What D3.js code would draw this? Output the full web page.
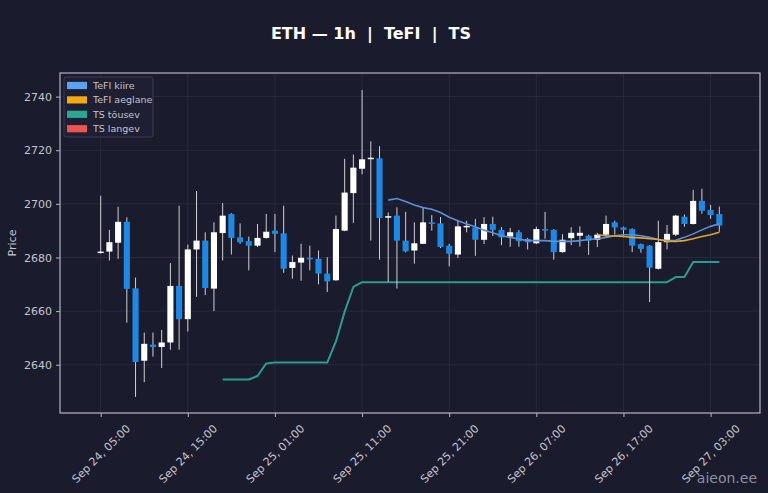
<!DOCTYPE html>
<html>
<head>
<meta charset="utf-8">
<script src="https://cdn.jsdelivr.net/npm/d3@7"></script>
<style>
  html, body { margin: 0; padding: 0; background: #1b1b2e; }
  svg { display: block; font-family: "DejaVu Sans", sans-serif; }
</style>
</head>
<body>
<div id="chart"></div>
<script>
// hourly candles, first one at Sep 24 05:00
const startTime = "2024-09-24T05:00:00Z";
const opens  = [2682, 2682.2, 2685.5, 2693.3, 2668.5, 2641.5, 2647.5, 2646.6, 2648.3, 2669.4,
  2657, 2683, 2686.3, 2668.4, 2689.1, 2696.2, 2687.5, 2686.1, 2684.4, 2687.3,
  2690, 2689, 2676.1, 2678.1, 2679.9, 2679.5, 2674, 2671.5, 2690, 2704,
  2713.1, 2716.8, 2717, 2694.9, 2695.6, 2686.3, 2682.6, 2685.1, 2693.1, 2692.7,
  2684.4, 2681.1, 2691.4, 2691.2, 2686.6, 2692.5, 2690.3, 2687.8, 2689.4, 2686.9,
  2685.3, 2690.6, 2690.3, 2682, 2687.2, 2688.1, 2688.1, 2686.6, 2688.5, 2693.1,
  2691.2, 2690.6, 2685, 2684.4, 2675.8, 2685.7, 2688.5, 2695.2, 2692.5, 2701.1,
  2697.7, 2696.2];
const highs  = [2703, 2690.3, 2698.9, 2695, 2672.5, 2652, 2652, 2653, 2677.9, 2699.3,
  2684.8, 2704.8, 2689.4, 2693.1, 2700.3, 2696.5, 2692.7, 2687.8, 2692.5, 2696.2,
  2696.2, 2699.3, 2680.7, 2685.1, 2684.4, 2682.6, 2680.1, 2695.6, 2716.8, 2718.4,
  2742.5, 2723.3, 2721.5, 2696.8, 2698.7, 2697, 2693.1, 2698.6, 2695.8, 2695.1,
  2685.1, 2693.7, 2693.7, 2694.4, 2695, 2695.2, 2691.3, 2691, 2690.2, 2687.3,
  2691.5, 2697, 2690.6, 2688.7, 2691.3, 2691.6, 2688.5, 2689.2, 2695.6, 2693.7,
  2691.5, 2690.9, 2685.2, 2684.6, 2693.7, 2692.1, 2695.9, 2696, 2705.2, 2705.6,
  2699.6, 2699];
const lows   = [2681.5, 2678.9, 2679.5, 2655.7, 2628, 2633.5, 2643, 2638.8, 2645.6, 2645.6,
  2652.4, 2665.3, 2666, 2660, 2678.9, 2681.1, 2685.1, 2675.2, 2683.9, 2687,
  2682, 2674.3, 2672.1, 2671.3, 2675.2, 2670, 2667.1, 2671.3, 2689.8, 2692.9,
  2711, 2686.3, 2679.2, 2670.9, 2668.4, 2681.9, 2677.7, 2685, 2690, 2683.5,
  2676.7, 2679.8, 2689.4, 2680.6, 2685, 2688, 2684.6, 2684, 2684, 2683,
  2685, 2687, 2679.2, 2681.8, 2684.6, 2684.1, 2681, 2683.9, 2687.8, 2688.5,
  2687.5, 2682, 2681.8, 2663.4, 2675.5, 2683, 2688, 2691.5, 2692.3, 2696.3,
  2694.4, 2689.6];
const closes = [2682.2, 2685.7, 2693.3, 2668.3, 2641, 2647.8, 2646.6, 2648.3, 2669.4, 2657,
  2683, 2686.3, 2668.6, 2689.4, 2695.6, 2687.3, 2685.7, 2684.4, 2687.3, 2689.6,
  2688.8, 2675.8, 2678.3, 2679.9, 2679.3, 2674, 2671.1, 2690.6, 2704.2, 2713.5,
  2716.6, 2717.2, 2694.7, 2695.4, 2686.3, 2682.3, 2685.3, 2693.1, 2692.5, 2683.9,
  2681.4, 2691.6, 2691.8, 2686.6, 2692.5, 2690.3, 2687.5, 2689.4, 2686.1, 2685.7,
  2690.6, 2690, 2682, 2686.6, 2689.2, 2689.2, 2686.3, 2688.5, 2692.5, 2691.2,
  2690.3, 2684.4, 2683.2, 2676.2, 2685.7, 2688.8, 2695.6, 2692.5, 2701.1, 2697.4,
  2695.8, 2691.9];

// indicator lines (start = candle index where the line begins)
const tefiFastStart = 33;
const tefiFast = [2701.4, 2702, 2700.9, 2699.6, 2698.6, 2698, 2696.8, 2695, 2693.7, 2692.5,
  2691.5, 2690.2, 2689.2, 2688.1, 2687.5, 2686.9, 2686.3, 2686.3, 2686.3, 2686,
  2686, 2686, 2686.3, 2686.7, 2687, 2687.5, 2688.1, 2688.5, 2688.5, 2688.1,
  2687.5, 2686.7, 2686.3, 2686.4, 2687.5, 2688.8, 2690.3, 2691.6, 2692.6];
const tefiSlowStart = 57;
const tefiSlow = [2688.5, 2688.1, 2688, 2687.8, 2687.5, 2687.3, 2687, 2686.7, 2686.1, 2686,
  2686.3, 2687, 2687.8, 2688.5, 2689.4];
const tsUpStart = 14;
const tsUp = [2634.5, 2634.5, 2634.5, 2634.5, 2635.8, 2640.5, 2640.8, 2640.8, 2640.8, 2640.8,
  2640.8, 2640.8, 2640.8, 2648.7, 2659.8, 2669, 2670.8, 2670.8, 2670.8, 2670.8,
  2670.8, 2670.8, 2670.8, 2670.8, 2670.8, 2670.8, 2670.8, 2670.8, 2670.8, 2670.8,
  2670.8, 2670.8, 2670.8, 2670.8, 2670.8, 2670.8, 2670.8, 2670.8, 2670.8, 2670.8,
  2670.8, 2670.8, 2670.8, 2670.8, 2670.8, 2670.8, 2670.8, 2670.8, 2670.8, 2670.8,
  2670.8, 2670.8, 2672.7, 2672.7, 2678.3, 2678.3, 2678.3, 2678.3];

const yTicks = [2640, 2660, 2680, 2700, 2720, 2740];
const xTicks = ["2024-09-24T05:00:00Z", "2024-09-24T15:00:00Z", "2024-09-25T01:00:00Z",
  "2024-09-25T11:00:00Z", "2024-09-25T21:00:00Z", "2024-09-26T07:00:00Z",
  "2024-09-26T17:00:00Z", "2024-09-27T03:00:00Z"];
const legendNames = ["TeFI kiire", "TeFI aeglane", "TS tõusev", "TS langev"];
const legendColors = ["#5aa2f2", "#f0aa12", "#2aa893", "#ef5350"];

const width = 768;
const height = 493;
const margin = { top: 73, right: 8, bottom: 80, left: 60 };
const HOUR = 3600 * 1000;
const t0 = new Date(startTime).getTime();
const timeAt = i => new Date(t0 + i * HOUR);

const candles = opens.map((o, i) => ({
  t: timeAt(i), o: o, h: highs[i], l: lows[i], c: closes[i]
}));

const svg = d3.select('#chart')
  .append('svg')
  .attr('width', width)
  .attr('height', height);

svg.append('rect').attr('width', width).attr('height', height).attr('fill', '#1b1b2e');

const x = d3.scaleUtc()
  .domain([new Date(t0 - 4.67 * HOUR), new Date(t0 + (candles.length - 1 + 4.67) * HOUR)])
  .range([margin.left, width - margin.right]);

const y = d3.scaleLinear()
  .domain([2622, 2748.8])
  .range([height - margin.bottom, margin.top]);

const xTickDates = xTicks.map(d => new Date(d));

// grid
const grid = svg.append('g').attr('stroke', '#2c2c44').attr('stroke-width', 0.8);
grid.selectAll('line.gy')
  .data(yTicks)
  .join('line')
    .attr('x1', margin.left).attr('x2', width - margin.right)
    .attr('y1', d => y(d)).attr('y2', d => y(d));
grid.selectAll('line.gx')
  .data(xTickDates)
  .join('line')
    .attr('class', 'gx')
    .attr('x1', d => x(d)).attr('x2', d => x(d))
    .attr('y1', margin.top).attr('y2', height - margin.bottom);

// indicator lines
function series(values, start) {
  return values.map((v, i) => ({ t: timeAt(start + i), v: v }));
}
const line = d3.line().x(d => x(d.t)).y(d => y(d.v));

svg.append('path')
  .datum(series(tsUp, tsUpStart))
  .attr('fill', 'none')
  .attr('stroke', '#2a9d8f')
  .attr('stroke-width', 2)
  .attr('stroke-linejoin', 'round')
  .attr('d', line);

// candles
const step = x(timeAt(1)) - x(timeAt(0));
const bw = step * 0.7;
const cg = svg.append('g');
cg.selectAll('line')
  .data(candles)
  .join('line')
    .attr('x1', d => x(d.t)).attr('x2', d => x(d.t))
    .attr('y1', d => y(d.h)).attr('y2', d => y(d.l))
    .attr('stroke', '#cfcfd6')
    .attr('stroke-width', 1);
cg.selectAll('rect')
  .data(candles)
  .join('rect')
    .attr('x', d => x(d.t) - bw / 2)
    .attr('y', d => y(Math.max(d.o, d.c)))
    .attr('width', bw)
    .attr('height', d => Math.max(1.5, Math.abs(y(d.o) - y(d.c))))
    .attr('fill', d => d.c >= d.o ? '#ffffff' : '#1e88e5');

svg.append('path')
  .datum(series(tefiFast, tefiFastStart))
  .attr('fill', 'none')
  .attr('stroke', '#5b8fd8')
  .attr('stroke-width', 1.6)
  .attr('d', line);

svg.append('path')
  .datum(series(tefiSlow, tefiSlowStart))
  .attr('fill', 'none')
  .attr('stroke', '#e0a72c')
  .attr('stroke-width', 1.6)
  .attr('d', line);

// frame
svg.append('rect')
  .attr('x', margin.left).attr('y', margin.top)
  .attr('width', width - margin.left - margin.right)
  .attr('height', height - margin.top - margin.bottom)
  .attr('fill', 'none')
  .attr('stroke', '#b4b4c4')
  .attr('stroke-width', 1.2);

// axes
function yAxis(g) {
  g.attr('transform', `translate(${margin.left},0)`)
    .call(d3.axisLeft(y).tickValues(yTicks).tickSize(4).tickPadding(4).tickFormat(d3.format('d')))
    .attr('font-size', '11px')
    .attr('font-family', '"DejaVu Sans", sans-serif')
    .call(g => g.select('.domain').remove())
    .call(g => g.selectAll('.tick line').attr('stroke', '#b4b4c4'))
    .call(g => g.selectAll('.tick text').attr('fill', '#c4c4cc'));
}

function xAxis(g) {
  g.attr('transform', `translate(0,${height - margin.bottom})`)
    .call(d3.axisBottom(x).tickValues(xTickDates).tickSize(4).tickFormat(d3.utcFormat('%b %d, %H:%M')))
    .attr('font-size', '11px')
    .attr('font-family', '"DejaVu Sans", sans-serif')
    .call(g => g.select('.domain').remove())
    .call(g => g.selectAll('.tick line').attr('stroke', '#b4b4c4'))
    .call(g => g.selectAll('.tick text')
      .attr('fill', '#c4c4cc')
      .attr('text-anchor', 'middle')
      .attr('dy', null)
      .attr('y', 0)
      .attr('transform', 'translate(0,41) rotate(-45)')
      .attr('dominant-baseline', 'central'));
}

svg.append('g').call(xAxis);
svg.append('g').call(yAxis);

svg.append('text')
  .attr('transform', `translate(16,${(margin.top + height - margin.bottom) / 2}) rotate(-90)`)
  .attr('text-anchor', 'middle')
  .attr('fill', '#c4c4cc')
  .attr('font-size', '11px')
  .text('Price');

// title
svg.append('text')
  .attr('x', 371).attr('y', 39)
  .attr('text-anchor', 'middle')
  .attr('fill', '#ffffff')
  .attr('font-size', '16px')
  .attr('font-weight', 'bold')
  .attr('xml:space', 'preserve')
  .style('white-space', 'pre')
  .text('ETH — 1h  |  TeFI  |  TS');

// legend
const lg = svg.append('g');
lg.append('rect')
  .attr('x', 64).attr('y', 77).attr('width', 89).attr('height', 60)
  .attr('rx', 2)
  .attr('fill', '#1f1f33')
  .attr('stroke', '#3a3a52');
const rows = lg.selectAll('g.row')
  .data(legendNames)
  .join('g')
    .attr('transform', (d, i) => `translate(67,${85.5 + i * 14.4})`);
rows.append('rect')
  .attr('x', 0).attr('y', -3.6).attr('width', 20).attr('height', 7.2)
  .attr('fill', (d, i) => legendColors[i]);
rows.append('text')
  .attr('x', 26).attr('y', 0)
  .attr('dominant-baseline', 'central')
  .attr('fill', '#c4c4cc')
  .attr('font-size', '9.5px')
  .text(d => d);

// watermark
svg.append('text')
  .attr('x', 757).attr('y', 483)
  .attr('text-anchor', 'end')
  .attr('fill', '#8e8e9e')
  .attr('font-size', '14px')
  .text('aieon.ee');
</script>
</body>
</html>
